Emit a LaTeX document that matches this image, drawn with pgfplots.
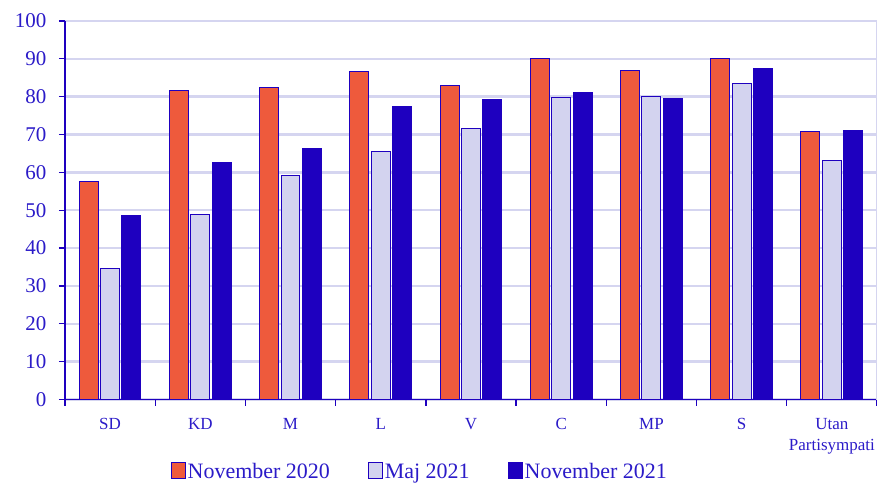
\documentclass[border=0pt]{standalone}
\usepackage{pgfplots}
\pgfplotsset{compat=1.18}
\usetikzlibrary{calc}
\usepackage{fontspec}
\setmainfont{Liberation Serif}
\definecolor{orng}{HTML}{EE5A3C}
\definecolor{lilac}{HTML}{D3D3EF}
\definecolor{dkblue}{HTML}{1E00BF}
\definecolor{txtblue}{HTML}{2B1BC8}
\definecolor{gridc}{HTML}{D5D5F0}

\pgfplotstableread{
x nov20 maj21 nov21
0 57.5 34.7 48.6
1 81.7 48.9 62.6
2 82.5 59.2 66.2
3 86.6 65.4 77.5
4 83.0 71.6 79.2
5 90.0 79.9 81.1
6 87.0 80.0 79.5
7 90.0 83.5 87.4
8 70.9 63.2 71.0
}\datatable

\begin{document}
\begin{tikzpicture}
\begin{axis}[
    name=ax,
    scale only axis,
    width=813pt, height=379pt,
    ybar, bar width=0.21,
    xmin=-0.5, xmax=8.5,
    ymin=0, ymax=100,
    ytick={0,10,...,100},
    xtick={-0.5,0.5,...,8.5},
    x tick label as interval,
    xticklabels={SD,KD,M,L,V,C,MP,S,{Utan\\Partisympati}},
    /pgf/number format/assume math mode=true,
    every x tick label/.append style={align=center, font=\fontsize{17}{21}\selectfont, text=txtblue, yshift=-9pt},
    every y tick label/.append style={font=\fontsize{21}{24}\selectfont, text=txtblue, xshift=-9pt},
    axis x line*=bottom, axis y line*=left,
    axis line style={dkblue, line width=1.3pt, -},
    tick style={dkblue, line width=1.3pt},
    major tick length=6pt,
    tick align=outside,
    ymajorgrids, grid style={gridc, line width=2.4pt},
    legend columns=3,
    legend style={at={(0.437,-0.165)}, anchor=north, draw=none, fill=none,
        inner sep=0pt, outer sep=0pt,
        font=\fontsize{22}{25}\selectfont, text=txtblue,
        nodes={inner ysep=1pt},
        /tikz/every even column/.append style={column sep=36pt}},
    legend image code/.code={\draw[#1, line width=1pt, draw=dkblue] (0pt,-7pt) rectangle (14pt,9pt);},
]
\addplot[fill=orng, draw=dkblue, line width=1pt, bar shift=-0.2375] table[x=x, y=nov20] {\datatable};
\addplot[fill=lilac, draw=dkblue, line width=1pt, bar shift=0] table[x=x, y=maj21] {\datatable};
\addplot[fill=dkblue, draw=dkblue, line width=1pt, bar shift=0.2375] table[x=x, y=nov21] {\datatable};
\legend{November 2020, Maj 2021, November 2021}
\draw[gridc, line width=1.5pt] (rel axis cs:1,0) -- (rel axis cs:1,1);
\end{axis}
\pgfresetboundingbox
\path[use as bounding box] ($(ax.south west)+(-65pt,-86pt)$) rectangle ($(ax.north east)+(0pt,21pt)$);
\end{tikzpicture}
\end{document}
